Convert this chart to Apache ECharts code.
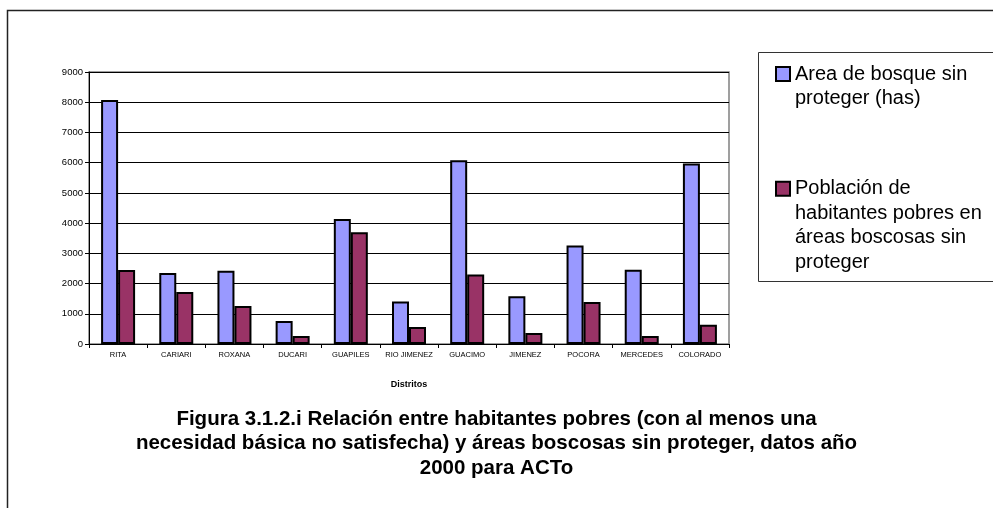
<!DOCTYPE html>
<html>
<head>
<meta charset="utf-8">
<script src="https://cdn.jsdelivr.net/npm/echarts@6/dist/echarts.min.js"></script>
<style>
  html, body { margin: 0; padding: 0; background: #fff; }
  #chart { width: 993px; height: 508px; }
</style>
</head>
<body>
<div id="chart"></div>
<script>
// distritos y valores
var distritos = ['RITA', 'CARIARI', 'ROXANA', 'DUCARI', 'GUAPILES', 'RIO JIMENEZ', 'GUACIMO', 'JIMENEZ', 'POCORA', 'MERCEDES', 'COLORADO'];
var areaBosque = [8070, 2350, 2420, 760, 4140, 1410, 6080, 1580, 3260, 2460, 5970];
var pobres = [2450, 1720, 1260, 265, 3700, 560, 2300, 360, 1390, 265, 640];

var nombreArea = 'Area de bosque sin\nproteger (has)';
var nombrePobres = 'Población de\nhabitantes pobres en\náreas boscosas sin\nproteger';

var fuente = "'Liberation Sans', Arial, sans-serif";
var altoLinea = 24.5;

var myChart = echarts.init(document.getElementById('chart'));

// leyenda: lineas vacias delante para que el icono quede junto a la primera linea
function leyenda(nombre, top) {
    var lineas = nombre.split('\n').length;
    return {
        orient: 'vertical',
        left: 775,
        top: top,
        padding: 0,
        icon: 'rect',
        itemWidth: 14,
        itemHeight: 14,
        selectedMode: false,
        data: [nombre],
        formatter: function (name) {
            return new Array(lineas).join(' \n') + name;
        },
        textStyle: {
            fontFamily: fuente,
            fontSize: 20,
            lineHeight: altoLinea,
            color: '#000'
        }
    };
}

var option = {
    backgroundColor: '#fff',
    animation: false,
    title: {
        text: 'Figura 3.1.2.i Relación entre habitantes pobres (con al menos una\nnecesidad básica no satisfecha) y áreas boscosas sin proteger, datos año\n2000 para ACTo',
        left: 'center',
        top: 402,
        textStyle: {
            fontFamily: fuente,
            fontSize: 20.5,
            fontWeight: 'bold',
            lineHeight: altoLinea,
            color: '#000'
        }
    },
    graphic: [
        {
            type: 'rect',
            shape: { x: 7.5, y: 10.5, width: 1000, height: 600 },
            style: { fill: 'none', stroke: '#222', lineWidth: 1.5 },
            silent: true
        },
        {
            type: 'rect',
            shape: { x: 758.5, y: 52.5, width: 300, height: 229 },
            style: { fill: 'none', stroke: '#333', lineWidth: 1 },
            silent: true
        }
    ],
    legend: [
        leyenda(nombreArea, 37.25),
        leyenda(nombrePobres, 103)
    ],
    grid: {
        left: 89,
        right: 264,
        top: 72,
        bottom: 164,
        show: true,
        borderColor: '#808080',
        borderWidth: 1.5
    },
    xAxis: {
        type: 'category',
        data: distritos,
        name: 'Distritos',
        nameLocation: 'middle',
        nameGap: 36,
        nameTextStyle: {
            fontFamily: fuente,
            fontSize: 9,
            fontWeight: 'bold',
            color: '#000'
        },
        axisLine: { lineStyle: { color: '#000', width: 1 } },
        axisTick: { show: true, length: 4, interval: 0, lineStyle: { color: '#000' } },
        axisLabel: {
            interval: 0,
            margin: 7,
            fontFamily: fuente,
            fontSize: 7.5,
            color: '#000'
        }
    },
    yAxis: {
        type: 'value',
        min: 0,
        max: 9000,
        interval: 1000,
        axisLine: { show: true, lineStyle: { color: '#000', width: 1 } },
        axisTick: { show: true, length: 4, lineStyle: { color: '#000' } },
        axisLabel: {
            margin: 6,
            fontFamily: fuente,
            fontSize: 9.5,
            color: '#000',
            formatter: function (v) { return String(v); }
        },
        splitLine: { show: true, lineStyle: { color: '#000', width: 1 } }
    },
    series: [
        {
            name: nombreArea,
            type: 'bar',
            data: areaBosque,
            barWidth: 17,
            barGap: '0%',
            itemStyle: { color: '#9999FF', borderColor: '#000', borderWidth: 2 }
        },
        {
            name: nombrePobres,
            type: 'bar',
            data: pobres,
            barWidth: 17,
            barGap: '0%',
            itemStyle: { color: '#993366', borderColor: '#000', borderWidth: 2 }
        }
    ]
};

myChart.setOption(option);
</script>
</body>
</html>
